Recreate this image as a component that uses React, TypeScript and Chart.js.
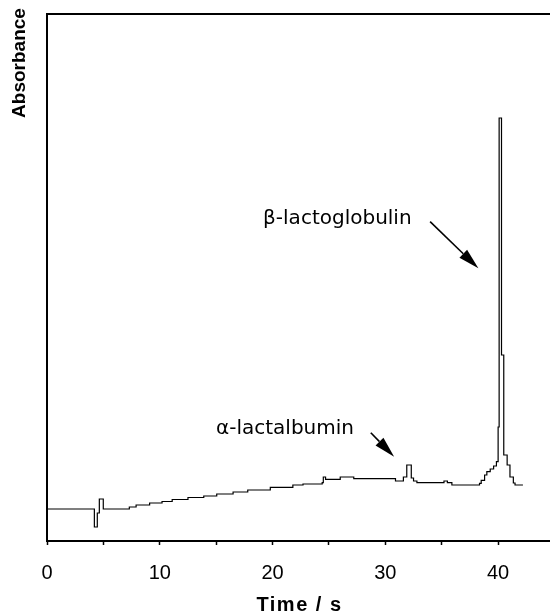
import React, { useEffect, useRef } from 'react';
import { Chart, registerables } from 'chart.js';

Chart.register(...registerables);

// Chromatogram trace (time in s, absorbance in arbitrary units), step-wise
const timeS = [
  0, 4.2, 4.46, 4.64, 4.99, 7.3, 7.9, 9.1, 10.2, 11.1, 12.5, 13.9, 15.05, 16.5,
  17.8, 19.8, 21.8, 22.7, 24.4, 24.5, 24.7, 26.0, 27.2, 30.9, 31.6, 31.9, 32.3,
  32.5, 32.8, 35.2, 35.5, 35.9, 38.35, 38.5, 38.8, 39.0, 39.3, 39.6, 39.85, 40.0,
  40.09, 40.3, 40.5, 40.8, 41.05, 41.35, 41.5, 42.2,
];
const absorbance = [
  32, 14, 28, 42, 32, 34, 36, 38, 39.5, 41.5, 43.5, 45, 47, 49,
  51, 53.7, 56, 57, 58.3, 64, 61.7, 64, 62.3, 60, 64, 76, 63,
  60, 58.3, 60, 58.3, 56, 57.7, 60.7, 66, 69.3, 72, 75, 79.3, 114,
  423, 186, 86, 76, 64, 58, 56, 56,
];

const xTickValues = [0, 5, 10, 15, 20, 25, 30, 35, 40];
const xTickLabels = ['0', '', '10', '', '20', '', '30', '', '40'];
const xTitle = 'Time / s';
const yTitle = 'Absorbance';

// annotations (data coordinates)
const annotationText = ['\u03b2-lactoglobulin', '\u03b1-lactalbumin'];
const annotationX = [19.16, 14.99];
const annotationY = [317, 107];
const arrowFromX = [33.97, 28.71];
const arrowFromY = [319.3, 108.3];
const arrowToX = [38.25, 30.78];
const arrowToY = [272.7, 84.3];

const X_MAX = 44.6;
const Y_MAX = 527;

const framePlugin = {
  id: 'frameAndNotes',
  afterDraw(chart: any) {
    const { ctx, chartArea, scales } = chart;
    const xs = scales.x;
    const ys = scales.y;
    ctx.save();
    // left and top frame
    ctx.strokeStyle = '#000';
    ctx.lineWidth = 2;
    ctx.beginPath();
    ctx.moveTo(chartArea.left, chartArea.bottom);
    ctx.lineTo(chartArea.left, chartArea.top);
    ctx.lineTo(chartArea.right + 2, chartArea.top);
    ctx.stroke();

    // y title
    ctx.save();
    ctx.translate(20, 63);
    ctx.rotate(-Math.PI / 2);
    ctx.font = 'bold 19px "Liberation Sans", Arial, sans-serif';
    ctx.fillStyle = '#000';
    ctx.textAlign = 'center';
    ctx.textBaseline = 'middle';
    ctx.fillText(yTitle, 0, 0);
    ctx.restore();

    // x title
    ctx.save();
    ctx.font = 'bold 20px "Liberation Sans", Arial, sans-serif';
    ctx.fillStyle = '#000';
    ctx.textAlign = 'center';
    ctx.textBaseline = 'alphabetic';
    try { (ctx as any).letterSpacing = '1.5px'; } catch (e) {}
    ctx.fillText(xTitle, (chartArea.left + chartArea.right) / 2 + 1, 611);
    ctx.restore();

    // annotation labels
    ctx.font = '20px "DejaVu Sans", sans-serif';
    ctx.fillStyle = '#000';
    ctx.textAlign = 'left';
    ctx.textBaseline = 'alphabetic';
    for (let i = 0; i < annotationText.length; i++) {
      ctx.fillText(
        annotationText[i],
        xs.getPixelForValue(annotationX[i]),
        ys.getPixelForValue(annotationY[i])
      );
    }
    // arrows
    for (let i = 0; i < arrowFromX.length; i++) {
      const x1 = xs.getPixelForValue(arrowFromX[i]);
      const y1 = ys.getPixelForValue(arrowFromY[i]);
      const x2 = xs.getPixelForValue(arrowToX[i]);
      const y2 = ys.getPixelForValue(arrowToY[i]);
      const ang = Math.atan2(y2 - y1, x2 - x1);
      const headLen = 21;
      const headHalf = 5.5;
      const bx = x2 - headLen * Math.cos(ang);
      const by = y2 - headLen * Math.sin(ang);
      ctx.strokeStyle = '#000';
      ctx.lineWidth = 1.6;
      ctx.beginPath();
      ctx.moveTo(x1, y1);
      ctx.lineTo(bx, by);
      ctx.stroke();
      ctx.beginPath();
      ctx.moveTo(x2, y2);
      ctx.lineTo(bx + headHalf * Math.sin(ang), by - headHalf * Math.cos(ang));
      ctx.lineTo(bx - headHalf * Math.sin(ang), by + headHalf * Math.cos(ang));
      ctx.closePath();
      ctx.fill();
    }
    ctx.restore();
  },
};

export default function App() {
  const canvasRef = useRef<HTMLCanvasElement | null>(null);

  useEffect(() => {
    if (!canvasRef.current) return;
    const data = timeS.map((t, i) => ({ x: t, y: absorbance[i] }));
    const chart = new Chart(canvasRef.current, {
      type: 'line',
      data: {
        datasets: [
          {
            data,
            borderColor: '#000',
            borderWidth: 1.2,
            pointRadius: 0,
            stepped: true,
            fill: false,
          },
        ],
      },
      options: {
        animation: false,
        responsive: false,
        maintainAspectRatio: false,
        layout: { padding: { left: 47, top: 14, right: 0, bottom: 0 } },
        plugins: { legend: { display: false }, tooltip: { enabled: false } },
        scales: {
          x: {
            type: 'linear',
            min: 0,
            max: X_MAX,
            afterBuildTicks: (axis: any) => {
              axis.ticks = xTickValues.map((v) => ({ value: v }));
            },
            afterFit: (axis: any) => {
              axis.height = 73;
            },
            ticks: {
              autoSkip: false,
              maxRotation: 0,
              padding: 16,
              color: '#000',
              font: { family: '"Liberation Sans", Arial, sans-serif', size: 20, lineHeight: 1.2 },
              callback: (v: any) => {
                const idx = xTickValues.indexOf(Number(v));
                return idx >= 0 ? xTickLabels[idx] : '';
              },
            },
            grid: {
              drawOnChartArea: false,
              drawTicks: true,
              tickLength: 4,
              tickColor: '#000',
              tickWidth: 1.5,
            },
            border: { display: true, color: '#000', width: 2 },
            title: { display: false },
          },
          y: {
            type: 'linear',
            display: false,
            min: 0,
            max: Y_MAX,
          },
        },
      },
      plugins: [framePlugin],
    });
    return () => chart.destroy();
  }, []);

  return (
    <div style={{ position: 'fixed', left: 0, top: 0, width: 550, height: 614, background: '#fff' }}>
      <canvas ref={canvasRef} width={550} height={614} style={{ display: 'block' }} />
    </div>
  );
}
